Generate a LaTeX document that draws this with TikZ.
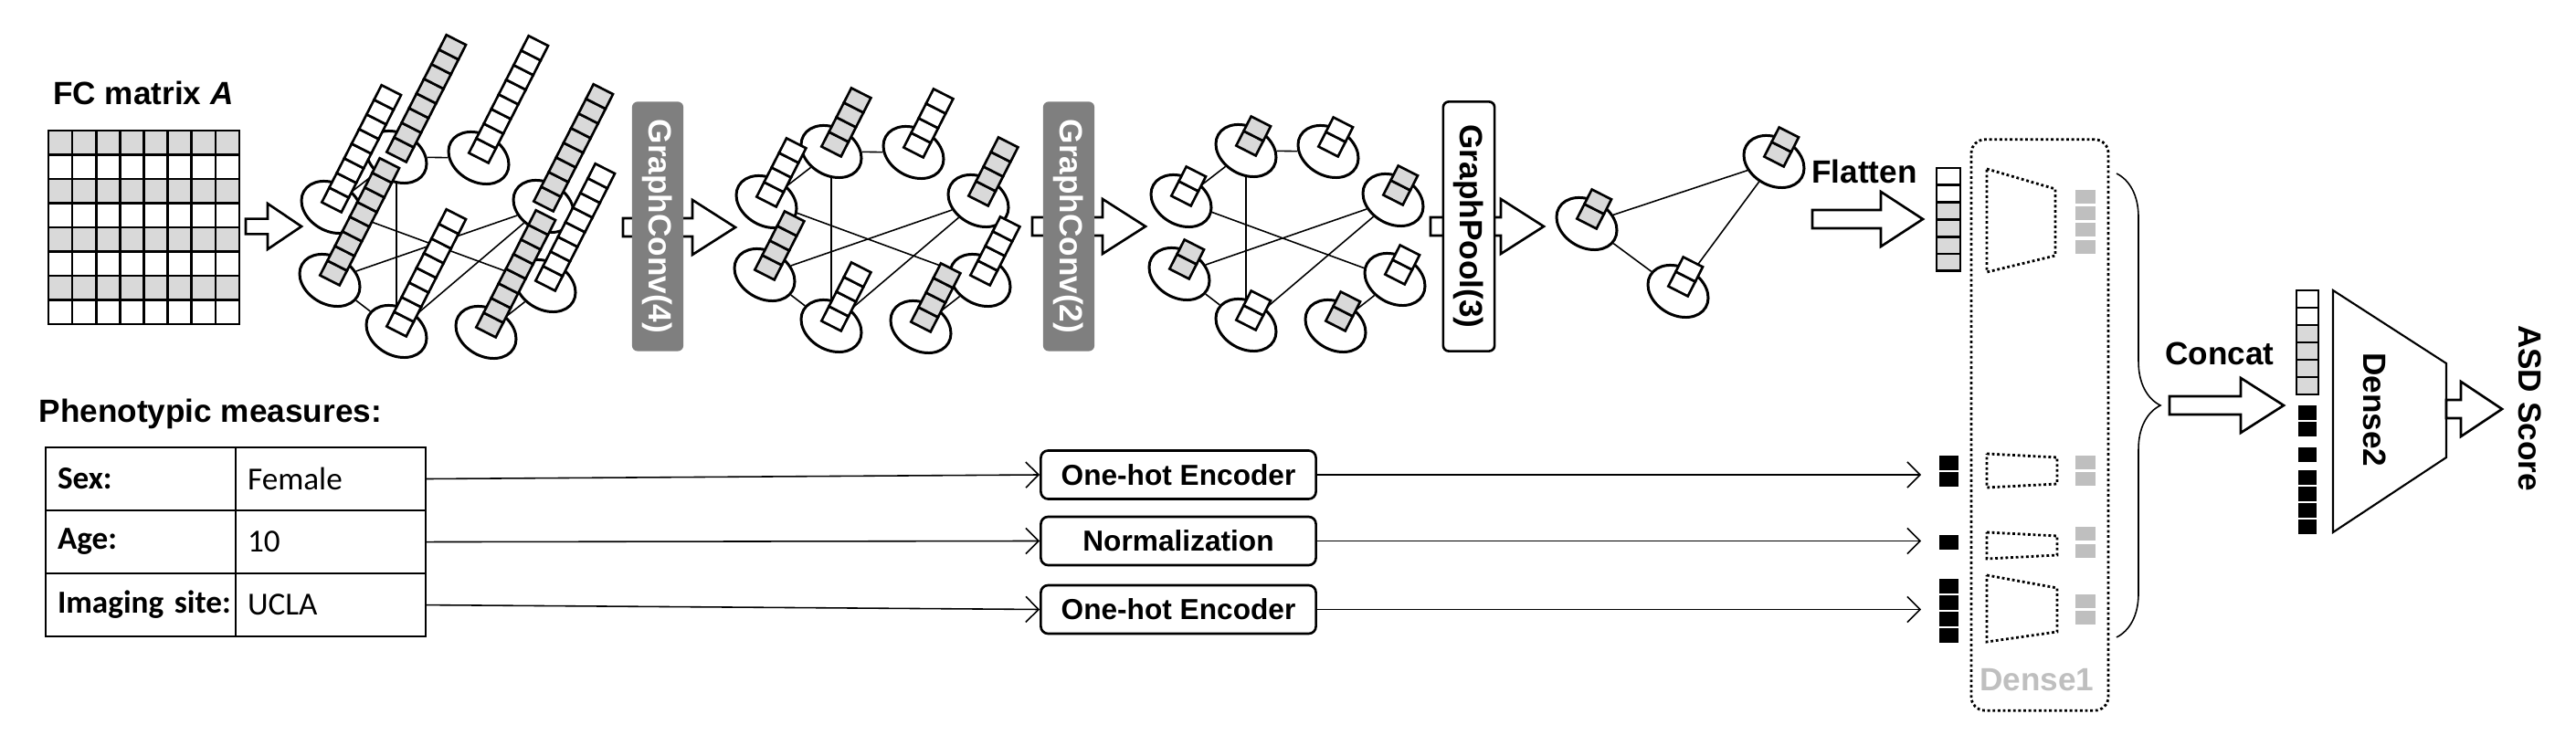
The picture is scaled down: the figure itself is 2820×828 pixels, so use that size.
\documentclass[tikz,border=0pt]{standalone}
\usepackage{fontspec}
\setmainfont{Liberation Sans}
\newfontfamily\calibri{Carlito}
\usetikzlibrary{positioning,shapes.geometric,arrows.meta,decorations.pathreplacing}

\definecolor{cellgray}{HTML}{D9D9D9}
\definecolor{convgray}{HTML}{7F7F7F}
\definecolor{outgray}{HTML}{BFBFBF}

% feature vector of a graph node: tilted stack of cells
\newcommand{\featbar}[3]{%
  \begin{scope}[shift={(#1.center)}, rotate=-27]
    \foreach \cc in {1,...,#2}
      \draw[cellline, fill=#3] (-12,{-(\cc-1)*18}) rectangle (12,{-\cc*18});
  \end{scope}}

% hollow block arrow: start x, tip x, y, head length, head half width
\newcommand{\fatarrow}[5]{%
  \draw[fatline] (#1,{#3-#5/3}) -- ({#2-#4},{#3-#5/3}) -- ({#2-#4},{#3-#5})
    -- (#2,#3) -- ({#2-#4},{#3+#5}) -- ({#2-#4},{#3+#5/3}) -- (#1,{#3+#5/3}) -- cycle;}

\begin{document}
\begin{tikzpicture}[x=0.01cm, y=-0.01cm,
  lbl/.style={font=\fontsize{10}{12}\selectfont\bfseries, inner sep=0},
  cellline/.style={line width=0.75pt},
  gnode/.style={draw, ellipse, line width=0.85pt, minimum width=0.7cm, minimum height=0.52cm, inner sep=0, rotate=-30},
  gedge/.style={line width=0.45pt},
  fatline/.style={draw, fill=white, line width=0.75pt},
  convbox/.style={fill=convgray, text=white, rounded corners=0.06cm, rotate=-90, minimum width=2.73cm, minimum height=0.54cm, font=\fontsize{10}{12}\selectfont\bfseries},
  poolbox/.style={convbox, fill=white, text=black, draw, line width=0.75pt},
  tkey/.style={draw, line width=0.55pt, outer sep=0, minimum height=0.69cm, text width=1.82cm, inner xsep=0.13cm, align=left, font=\calibri\fontsize{10}{12}\selectfont\bfseries},
  tval/.style={tkey, font=\calibri\fontsize{10}{12}\selectfont},
  encbox/.style={draw, line width=0.75pt, rounded corners=0.08cm, minimum width=3.01cm, minimum height=0.53cm, font=\fontsize{9}{11}\selectfont\bfseries},
  thinarrow/.style={-{Straight Barb[length=4pt, width=8pt]}, line width=0.45pt},
  dotline/.style={line width=0.8pt, dash pattern=on 0.8pt off 0.8pt},
  brc/.style={decorate, decoration={brace, amplitude=0.48cm}, line width=0.45pt}
]
\useasboundingbox (0,0) rectangle (2820,828);

% FC matrix
\node[lbl] (fclbl) at (157,102) {FC matrix \textit{A}};
\foreach \rr in {0,2,4,6}
  \fill[cellgray] (53,{143+\rr*26.5}) rectangle (262,{143+(\rr+1)*26.5});
\foreach \i in {0,...,8} {
  \draw[cellline, line cap=rect] ({53+\i*26.125},143) -- ({53+\i*26.125},355);
  \draw[cellline, line cap=rect] (53,{143+\i*26.5}) -- (262,{143+\i*26.5});
}

% block arrows between the stages
\fatarrow{269}{330}{248}{37}{25}
\fatarrow{682}{805}{249}{47}{30}
\fatarrow{1130}{1254}{248}{47}{30}
\fatarrow{1566}{1690}{248}{47}{30}

% the three graphs with shrinking node features
\foreach \g/\ax/\ay/\nc in {1/363/227/8, 2/839/221/4, 3/1293/220/2} {
  \foreach \id/\dx/\dy in {a/0/0, b/71/-55, c/161/-54, d/232/-1, e/-2/80, f/71/136, g/169/137, h/234/86}
    \node[gnode] (\id\g) at ({\ax+\dx},{\ay+\dy}) {};
  \foreach \p/\q in {a/b, b/c, b/f, a/h, e/d, d/f, e/f, g/h}
    \draw[gedge] (\p\g) -- (\q\g);
  \foreach \id/\col in {a/white, b/cellgray, c/white, d/cellgray, e/cellgray, f/white, g/cellgray, h/white}
    \featbar{\id\g}{\nc}{\col};
}

% pooled graph
\node[gnode] (p1) at (1737,245) {};
\node[gnode] (p2) at (1942,177) {};
\node[gnode] (p3) at (1837,319) {};
\draw[gedge] (p1) -- (p2) (p1) -- (p3) (p2) -- (p3);
\featbar{p1}{2}{cellgray}
\featbar{p2}{2}{cellgray}
\featbar{p3}{2}{white}

\node[convbox] (conv1) at (720,248) {GraphConv(4)};
\node[convbox] (conv2) at (1170,248) {GraphConv(2)};
\node[poolbox] (pool) at (1608,248) {GraphPool(3)};

% flatten
\node[lbl] (flatlbl) at (2041,188) {Flatten};
\fatarrow{1984}{2105}{240}{46}{30}
\foreach \cc/\col in {0/white, 1/white, 2/cellgray, 3/cellgray, 4/cellgray, 5/cellgray}
  \draw[cellline, fill=\col] (2120,{184+\cc*18.8}) rectangle (2146,{184+(\cc+1)*18.8});

% Dense1
\node[draw, dotline, rounded corners=0.15cm, minimum width=1.5cm, minimum height=6.25cm] (dense1) at (2233,465.5) {};
\node[lbl, text=outgray] (dense1lbl) at (2230,745) {Dense1};
\draw[dotline] (2175,185) -- (2250,207) -- (2250,280) -- (2175,298) -- cycle;
\draw[dotline] (2175,497) -- (2252,501) -- (2252,530) -- (2175,534) -- cycle;
\draw[dotline] (2175,583) -- (2252,587) -- (2252,608) -- (2175,612) -- cycle;
\draw[dotline] (2175,630) -- (2252,644) -- (2252,692) -- (2175,703) -- cycle;
\foreach \ty in {208,226,244,263,499,517,577,596,651,669}
  \fill[outgray] (2272,\ty) rectangle ++(22,15);
\foreach \ty in {499,517,586,634,652,670,688}
  \fill (2123,\ty) rectangle ++(21,16);

% phenotypic measures
\node[lbl, anchor=west] (phenolbl) at (42,453) {Phenotypic measures:};
\node[tkey, anchor=north west] (k1) at (50,490) {Sex:};
\node[tval, right=0pt of k1] (v1) {Female};
\node[tkey, below=0pt of k1] (k2) {Age:};
\node[tval, right=0pt of k2] (v2) {10};
\node[tkey, below=0pt of k2] (k3) {Imaging~site:};
\node[tval, right=0pt of k3] (v3) {UCLA};

\node[encbox] (enc1) at (1290,520) {One-hot Encoder};
\node[encbox] (enc2) at (1290,592.5) {Normalization};
\node[encbox] (enc3) at (1290,667.5) {One-hot Encoder};
\coordinate (vin) at (2103,0);
\foreach \i in {1,2,3} {
  \draw[thinarrow] (v\i.east) -- (enc\i.west);
  \draw[thinarrow] (enc\i.east) -- (enc\i.east -| vin);
}

% concat
\coordinate (bt) at (2317,190);
\coordinate (bb) at (2317,698);
\draw[brc] (bt) -- (bb);
\node[lbl] (concatlbl) at (2430,387) {Concat};
\fatarrow{2375}{2500}{444}{47}{30}
\foreach \cc/\col in {0/white, 1/white, 2/cellgray, 3/cellgray, 4/cellgray, 5/cellgray}
  \draw[cellline, fill=\col] (2514,{318+\cc*19}) rectangle (2538,{318+(\cc+1)*19});
\foreach \ty in {444,462,490,515,533,551,569}
  \fill (2516,\ty) rectangle ++(20,16);

% Dense2 and output
\draw[line width=0.6pt, fill=white] (2554,318) -- (2678,398) -- (2678,501) -- (2554,583) -- cycle;
\node[lbl, rotate=-90] (dense2lbl) at (2600,449) {Dense2};
\fatarrow{2678}{2739}{448}{45}{30}
\node[lbl, rotate=-90] (asdlbl) at (2770,447) {ASD Score};
\end{tikzpicture}
\end{document}
